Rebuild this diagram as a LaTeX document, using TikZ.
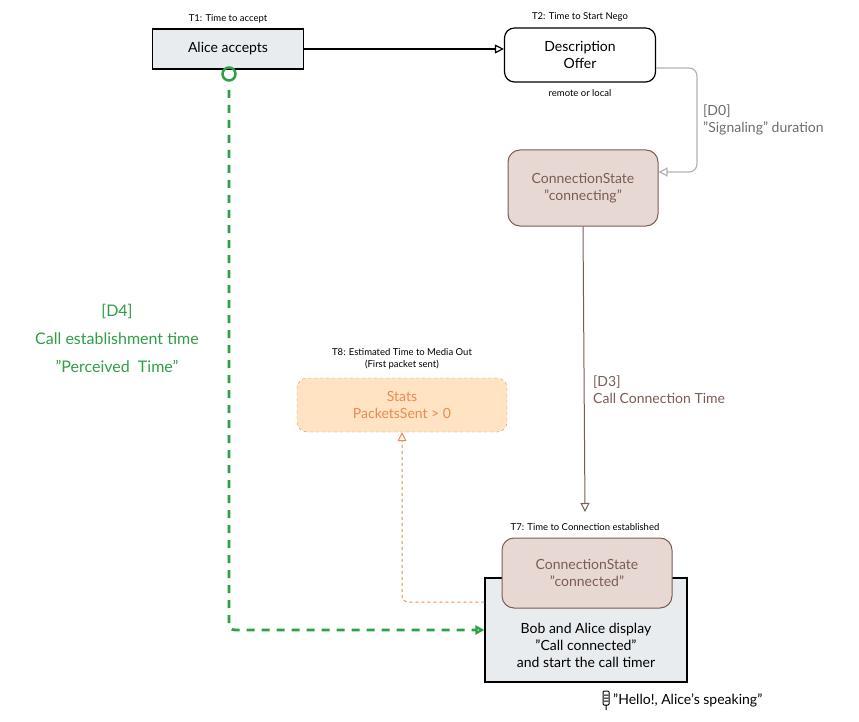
\documentclass[tikz,border=0pt]{standalone}
\usepackage{fontspec}
\setmainfont{Lato}
\usetikzlibrary{arrows.meta}
\definecolor{boxgray}{HTML}{E9ECEF}
\definecolor{statefill}{HTML}{E8D8D3}
\definecolor{statedraw}{HTML}{7A5C54}
\definecolor{statsfill}{HTML}{FFE3C2}
\definecolor{statsdraw}{HTML}{EE8A50}
\definecolor{greenline}{HTML}{2F9E44}
\tikzset{
  main/.style={font=\fontsize{14}{17}\selectfont, align=center, inner sep=0pt},
  tiny/.style={font=\fontsize{9.5}{12}\selectfont, align=center, inner sep=0pt},
  state/.style={main, draw=statedraw, fill=statefill, text=statedraw, rounded corners=12pt, line width=1pt},
  open/.style={-{Triangle[open,length=9pt,width=9pt]}}
}
\begin{document}
\begin{tikzpicture}[x=1pt,y=-1pt]
\useasboundingbox (0,0) rectangle (859,722);
% boxes
\node [main, draw, fill=boxgray, line width=1.2pt, minimum width=151pt, minimum height=40pt] (alice) at (228,49) {Alice accepts};
\node [main, draw, fill=white, rounded corners=10pt, line width=1.2pt, minimum width=151pt, minimum height=54pt] (offer) at (580,55) {Description\\Offer};
\node [state, minimum width=150pt, minimum height=76pt] (connecting) at (583,188) {ConnectionState\\"connecting"};
\node [main, draw=statsdraw, dashed, fill=statsfill, text=statsdraw, rounded corners=10pt, minimum width=210pt, minimum height=54pt] (stats) at (402,405) {Stats\\PacketsSent > 0};
\node [main, draw, fill=boxgray, line width=1.2pt, minimum width=202pt, minimum height=104pt, text depth=0pt] (bob) at (586,630) {};
\node [main] (bobtext) at (586,645) {Bob and Alice display\\"Call connected"\\and start the call timer};
\node [state, minimum width=170pt, minimum height=70pt] (connected) at (587,573) {ConnectionState\\"connected"};
% labels
\node [tiny] (t1) at (228,19) {T1: Time to accept};
\node [tiny] (t2) at (580,17) {T2: Time to Start Nego};
\node [tiny] (remote) at (580,93) {remote or local};
\node [tiny] (t8) at (402,359) {T8: Estimated Time to Media Out\\(First packet sent)};
\node [tiny] (t7) at (585,527) {T7: Time to Connection established};
\node [main, text=gray!85!black, align=left, anchor=west] (d0) at (703,120) {[D0]\\"Signaling" duration};
\node [main, text=statedraw, align=left, anchor=west] (d3) at (593,390) {[D3]\\Call Connection Time};
\node [main, font=\fontsize{16}{28}\selectfont, text=greenline] (d4) at (117,338) {[D4]\\Call establishment time\\"Perceived\ \ Time"};
\node [main, anchor=west] (hello) at (613,700) {"Hello!, Alice's speaking"};
\draw [line width=1pt, rounded corners=1pt] (603,691) rectangle (609,705) (604,695) -- (608,695) (604,698) -- (608,698) (604,701) -- (608,701) (606,705) -- (606,710);
% connectors
\draw [open, line width=1.2pt] (alice) -- (offer.west |- alice);
\coordinate (g1) at (697,68);
\coordinate (g2) at (697,172);
\draw [open, gray!60, line width=1.2pt, rounded corners=8pt] (offer.east |- g1) -- (g1) -- (g2) -- (connecting.east |- g2);
\draw [open, statedraw, line width=1pt] (connecting.south) -- (585,512);
\coordinate (o1) at (402,602);
\draw [open, statsdraw, dashed, line width=1pt, rounded corners=6pt] (bob.west |- o1) -- (o1) -- (stats.south);
\draw [greenline, line width=2.5pt] (229,74) circle (6.5pt);
\coordinate (gc) at (229,630);
\draw [open, greenline, line width=2.8pt, dash pattern=on 8pt off 7pt, rounded corners=6pt] (229,90) -- (gc) -- (bob.west |- gc);
\end{tikzpicture}
\end{document}
